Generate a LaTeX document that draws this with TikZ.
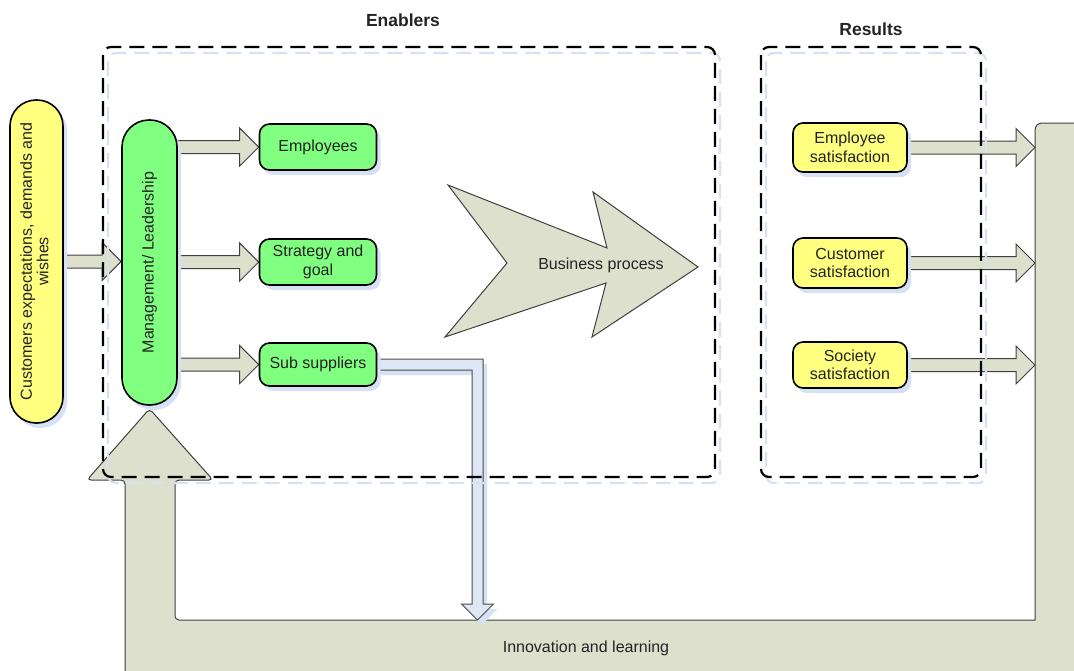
\documentclass[tikz,border=0pt]{standalone}
\usepackage{fontspec}
\setmainfont{Liberation Sans}
\usepackage{graphicx}
\usepackage{tikz}
\usetikzlibrary{shapes,shadows,arrows,backgrounds,positioning,calc}
\definecolor{boxgreen}{RGB}{128,255,128}
\definecolor{boxyellow}{RGB}{255,255,128}
\definecolor{flowgray}{RGB}{221,224,204}
\definecolor{pipeblue}{RGB}{222,231,246}
\definecolor{shadeblue}{RGB}{214,225,243}
\definecolor{txtgray}{RGB}{35,35,35}
\tikzstyle{greenbox}=[rectangle, draw=black, line width=1.6pt, fill=boxgreen, rounded corners=10pt, align=center, text=txtgray, inner sep=0pt, font=\fontsize{16}{18.5}\selectfont, drop shadow={shadow xshift=4pt, shadow yshift=-5pt, fill=shadeblue, opacity=1}]
\tikzstyle{yellowbox}=[greenbox, fill=boxyellow]
\tikzstyle{flowarrow}=[draw=black!75, line width=1pt, fill=flowgray]
\tikzstyle{pipe}=[draw=black!70, line width=1pt, fill=pipeblue, drop shadow={shadow xshift=4pt, shadow yshift=-5pt, fill=shadeblue, opacity=1}]
\tikzstyle{dashbox}=[draw=black, line width=2.2pt, dash pattern=on 15pt off 8pt, rounded corners=8pt]
\tikzstyle{dashshade}=[dashbox, draw=shadeblue]
\tikzstyle{title}=[font=\fontsize{17.5}{20}\selectfont\bfseries, text=txtgray]
\tikzstyle{plain}=[font=\fontsize{16}{18.5}\selectfont, text=txtgray]

\newcommand{\blockarrow}[2]{%
  \draw[flowarrow] let \p1=(#1), \p2=(#2) in
    (\x1,\y1+6.5pt) -- (\x2-19pt,\y1+6.5pt) -- (\x2-19pt,\y1+19pt) -- (\x2,\y1)
    -- (\x2-19pt,\y1-19pt) -- (\x2-19pt,\y1-6.5pt) -- (\x1,\y1-6.5pt) -- cycle;}

\begin{document}
\begin{tikzpicture}[x=1pt, y=-1pt]
\useasboundingbox (0,0) rectangle (1074,670);

%Titles
\node[title] (entitle) at (403,20) {Enablers};
\node[title] (restitle) at (871,29) {Results};

%Left column
\node[yellowbox, rounded corners=26pt, minimum width=53pt, minimum height=323pt] (cust) at (36.5,261.5)
  {\rotatebox{90}{\begin{tabular}{@{}c@{}}Customers expectations, demands and\\[-2pt]wishes\end{tabular}}};
\node[greenbox, rounded corners=27pt, minimum width=55pt, minimum height=285pt] (mgmt) at (149.5,262.5)
  {\rotatebox{90}{Management/ Leadership}};

%Enablers
\node[greenbox, minimum width=117pt, minimum height=46pt] (emp) at (318,147) {Employees};
\node[greenbox, minimum width=117pt, minimum height=46pt] (strat) at (318,262) {Strategy and\\goal};
\node[greenbox, minimum width=117pt, minimum height=43pt] (sub) at (318,364.5) {Sub suppliers};
\node[plain] (bp) at (601,265) {Business process};

%Results
\node[yellowbox, minimum width=114pt, minimum height=49pt] (esat) at (850,147.5) {Employee\\satisfaction};
\node[yellowbox, minimum width=114pt, minimum height=50pt] (csat) at (850,263) {Customer\\satisfaction};
\node[yellowbox, minimum width=114pt, minimum height=46pt] (ssat) at (850,365) {Society\\satisfaction};

%Feedback
\coordinate (fbedge) at (1035,123);
\coordinate (band) at (477.5,620);
\node[plain] (learn) at (586,648) {Innovation and learning};

\begin{scope}[on background layer]
\draw[flowarrow, rounded corners=4pt] (125,690) -- (125,480) -- (87,480) -- ($(mgmt.south)+(0,3)$)
  -- (213,480) -- (175,480) -- (175,620) [sharp corners]-- (1035,620) [rounded corners=7pt]-- (1035,123) -- (1090,123) -- (1090,690) -- cycle;
\draw[flowarrow] (448,185) -- (607,248) -- (593,192) -- (698,267) -- (592,337) -- (606,283) -- (445,337) -- (507,263) -- cycle;
\blockarrow{cust.east}{mgmt.west}
\blockarrow{mgmt.east |- emp.west}{emp.west}
\blockarrow{mgmt.east |- strat.west}{strat.west}
\blockarrow{mgmt.east |- sub.west}{sub.west}
\blockarrow{esat.east}{fbedge}
\blockarrow{csat.east}{fbedge}
\blockarrow{ssat.east}{fbedge}
\draw[pipe] let \p1=(sub.east), \p2=(band) in
  (\x1-3pt,\y1+5.5pt) -- (\x2+5.5pt,\y1+5.5pt) -- (\x2+5.5pt,\y2+16pt) -- (\x2+16pt,\y2+16pt) -- (\x2,\y2)
  -- (\x2-16pt,\y2+16pt) -- (\x2-5.5pt,\y2+16pt) -- (\x2-5.5pt,\y1-5.5pt) -- (\x1-3pt,\y1-5.5pt) -- cycle;
\end{scope}

%Dashed frames
\draw[dashshade] (108,53) rectangle (720,483);
\draw[dashshade] (766,53) rectangle (986,483);
\draw[dashbox] (103,47) rectangle (715,477);
\draw[dashbox] (761,47) rectangle (981,477);
\end{tikzpicture}
\end{document}
